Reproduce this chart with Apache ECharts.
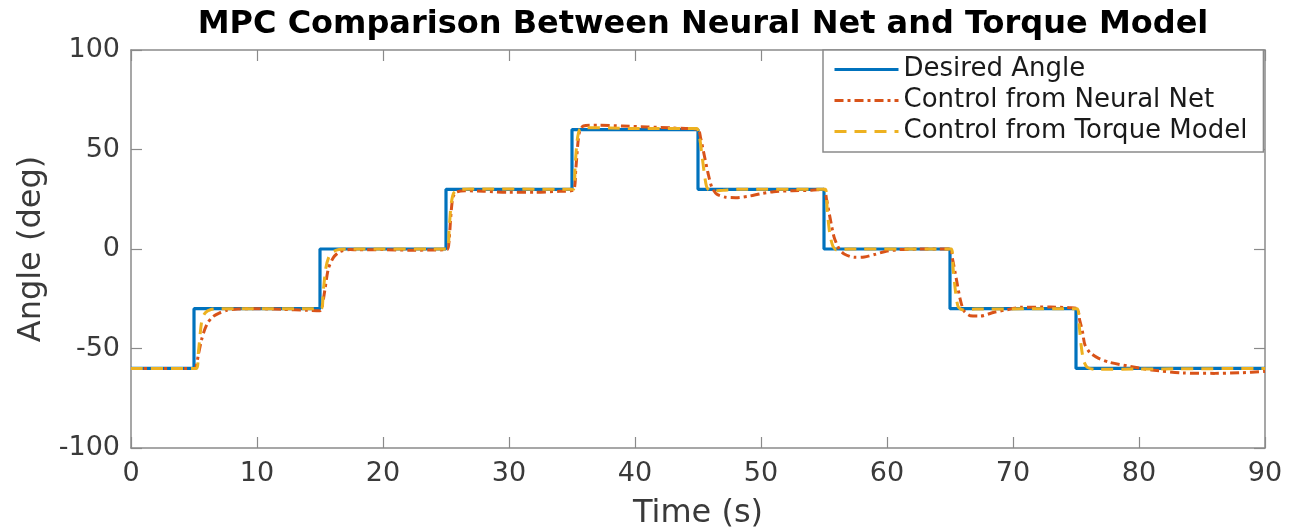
<!DOCTYPE html>
<html>
<head>
<meta charset="utf-8">
<script src="https://cdn.jsdelivr.net/npm/echarts@6/dist/echarts.min.js"></script>
<style>
  html, body { margin: 0; padding: 0; background: #fff; }
  #chart { width: 1296px; height: 529px; }
</style>
</head>
<body>
<div id="chart"></div>
<script>
// Reference trajectory: stepped joint angle set-points (deg) over time (s)
const desiredTime  = [0, 5, 5, 15, 15, 25, 25, 35, 35, 45, 45, 55, 55, 65, 65, 75, 75, 90];
const desiredAngle = [-60, -60, -30, -30, 0, 0, 30, 30, 60, 60, 30, 30, 0, 0, -30, -30, -60, -60];

// MPC tracking with the neural-network plant model
const neuralTime = [
  0, 5.0, 5.15, 5.35, 5.6, 5.85, 6.1, 6.5, 7.0, 7.6, 8.5, 10, 12, 14, 15.0,
  15.15, 15.4, 15.66, 16.06, 16.6, 17.4, 18, 20, 22, 24, 25.1,
  25.25, 25.4, 25.55, 25.8, 26.5, 28, 30, 32, 34, 35.1,
  35.3, 35.45, 35.6, 35.9, 37, 39, 41, 43, 45.0,
  45.2, 45.5, 45.8, 46.1, 46.5, 47.2, 48, 49, 50, 51, 52.5, 54, 55.0,
  55.2, 55.5, 55.8, 56.2, 56.6, 57.4, 58.2, 59, 60, 61, 63, 65.0,
  65.2, 65.5, 65.8, 66.1, 66.6, 67.4, 68.5, 69.8, 70.6, 73, 74.5, 75.1,
  75.3, 75.5, 75.7, 76.1, 76.8, 77.7, 79.3, 81, 83.5, 86, 88, 90
];
const neuralAngle = [
  -60, -60, -59.5, -53, -45.6, -40.5, -37, -34, -32.2, -30.8, -30.2, -30, -30.3, -30.8, -31,
  -29.5, -20, -10, -4.3, -1.2, -0.3, -0.4, -0.3, -0.6, -0.5, -0.3,
  5, 18, 26, 28.5, 29.3, 29, 28.5, 28.5, 29, 29.5,
  40, 52, 59, 61.8, 62.2, 61.8, 61.3, 60.8, 60,
  56, 47, 38, 31, 27.5, 26, 25.8, 26.5, 27.8, 28.8, 29.3, 29.5, 30,
  25, 15, 6, 0, -2.5, -4.2, -4, -2.8, -1, -0.3, 0, 0,
  -5, -15, -25, -31, -33.5, -33.7, -31.8, -30.2, -29.3, -29.2, -29.5, -30,
  -36, -41, -48, -52, -55, -57, -59, -60.8, -62.3, -62.5, -62.2, -61.5
];

// MPC tracking with the analytic torque model
const torqueTime = [
  0, 5.2, 5.35, 5.5, 5.65, 5.9, 6.3, 7, 15.1,
  15.25, 15.45, 15.7, 16, 16.5, 17.5, 25.1,
  25.25, 25.4, 25.6, 26, 27, 35.1,
  35.25, 35.4, 35.6, 36, 38, 40, 44.9,
  45.1, 45.3, 45.5, 45.7, 46, 47, 48, 55.1,
  55.25, 55.45, 55.7, 56, 57, 65.1,
  65.25, 65.45, 65.65, 66, 67, 75.1,
  75.25, 75.4, 75.6, 75.9, 76.5, 80, 90
];
const torqueAngle = [
  -60, -60, -52, -42, -35, -32, -30.5, -30, -30,
  -22, -10, -4, -1.5, -0.3, 0, 0,
  10, 22, 28, 29.8, 30.2, 30,
  42, 54, 60, 61, 60.8, 60.5, 60.5,
  57, 48, 38, 31, 29.2, 29.5, 30, 30,
  20, 8, 1.5, -0.5, 0, 0,
  -10, -22, -29, -30.5, -30.2, -30,
  -38, -48, -56, -59.5, -60.5, -60.3, -60
];

const tickLabelsX = ['0', '10', '20', '30', '40', '50', '60', '70', '80', '90'];
const tickLabelsY = ['-100', '-50', '0', '50', '100'];

const pairs = (xs, ys) => xs.map((x, i) => [x, ys[i]]);

const FONT = 'DejaVu Sans';
const AXIS_COLOR = '#8a8a8a';
const TEXT_COLOR = '#3a3a3a';

const tickStyle = { show: true, inside: true, length: 11, lineStyle: { color: AXIS_COLOR, width: 1.2 } };
const lineStyleAxis = { show: true, onZero: false, lineStyle: { color: AXIS_COLOR, width: 1.5 } };

// Top and right axes close the box and repeat the inward ticks
const mirrorAxis = {
  axisLine: lineStyleAxis,
  axisTick: tickStyle,
  axisLabel: { show: false },
  splitLine: { show: false }
};

const chart = echarts.init(document.getElementById('chart'), null, { renderer: 'canvas' });

chart.setOption({
  animation: false,
  backgroundColor: '#ffffff',
  textStyle: { fontFamily: FONT },
  title: {
    text: 'MPC Comparison Between Neural Net and Torque Model',
    left: 698,
    top: 4,
    textAlign: 'center',
    textStyle: { fontFamily: FONT, fontSize: 32, fontWeight: 'bold', color: '#000' }
  },
  grid: { left: 131, right: 31, top: 50, bottom: 81, containLabel: false, outerBoundsMode: 'none' },
  legend: {
    orient: 'vertical',
    left: 823,
    top: 50,
    padding: [6, 16, 7, 10],
    itemWidth: 64,
    itemHeight: 14,
    itemGap: 4,
    backgroundColor: '#ffffff',
    borderColor: AXIS_COLOR,
    borderWidth: 1.5,
    borderRadius: 0,
    itemStyle: { color: 'rgba(0,0,0,0)', borderWidth: 0, opacity: 0 },
    lineStyle: { width: 3, type: 'inherit' },
    textStyle: { fontFamily: FONT, fontSize: 26, color: '#1a1a1a', lineHeight: 27 },
    data: ['Desired Angle', 'Control from Neural Net', 'Control from Torque Model']
  },
  xAxis: [
    {
      type: 'value', position: 'bottom', min: 0, max: 90, interval: 10,
      name: 'Time (s)', nameLocation: 'middle', nameGap: 50,
      nameTextStyle: { fontFamily: FONT, fontSize: 32, color: TEXT_COLOR },
      axisLine: lineStyleAxis,
      axisTick: tickStyle,
      axisLabel: {
        margin: 12, fontFamily: FONT, fontSize: 27, color: TEXT_COLOR,
        formatter: (v) => tickLabelsX[Math.round(v / 10)]
      },
      splitLine: { show: false }
    },
    Object.assign({ type: 'value', position: 'top', min: 0, max: 90, interval: 10 }, mirrorAxis)
  ],
  yAxis: [
    {
      type: 'value', position: 'left', min: -100, max: 100, interval: 50,
      name: 'Angle (deg)', nameLocation: 'middle', nameGap: 82, nameRotate: 90,
      nameTextStyle: { fontFamily: FONT, fontSize: 32, color: TEXT_COLOR },
      axisLine: lineStyleAxis,
      axisTick: tickStyle,
      axisLabel: {
        margin: 11, fontFamily: FONT, fontSize: 27, color: TEXT_COLOR,
        formatter: (v) => tickLabelsY[Math.round((v + 100) / 50)]
      },
      splitLine: { show: false }
    },
    Object.assign({ type: 'value', position: 'right', min: -100, max: 100, interval: 50 }, mirrorAxis)
  ],
  series: [
    {
      name: 'Desired Angle', type: 'line', symbol: 'none',
      xAxisIndex: 0, yAxisIndex: 0,
      lineStyle: { color: '#0072BD', width: 3.2, type: 'solid' },
      itemStyle: { color: '#0072BD' },
      data: pairs(desiredTime, desiredAngle)
    },
    {
      name: 'Control from Neural Net', type: 'line', symbol: 'none', smooth: 0.25,
      xAxisIndex: 0, yAxisIndex: 0,
      lineStyle: { color: '#D95319', width: 3, type: [9, 4, 3, 4] },
      itemStyle: { color: '#D95319' },
      data: pairs(neuralTime, neuralAngle)
    },
    {
      name: 'Control from Torque Model', type: 'line', symbol: 'none', smooth: 0.25,
      xAxisIndex: 0, yAxisIndex: 0,
      lineStyle: { color: '#EDB120', width: 3, type: [12, 8] },
      itemStyle: { color: '#EDB120' },
      data: pairs(torqueTime, torqueAngle)
    }
  ]
});
</script>
</body>
</html>
